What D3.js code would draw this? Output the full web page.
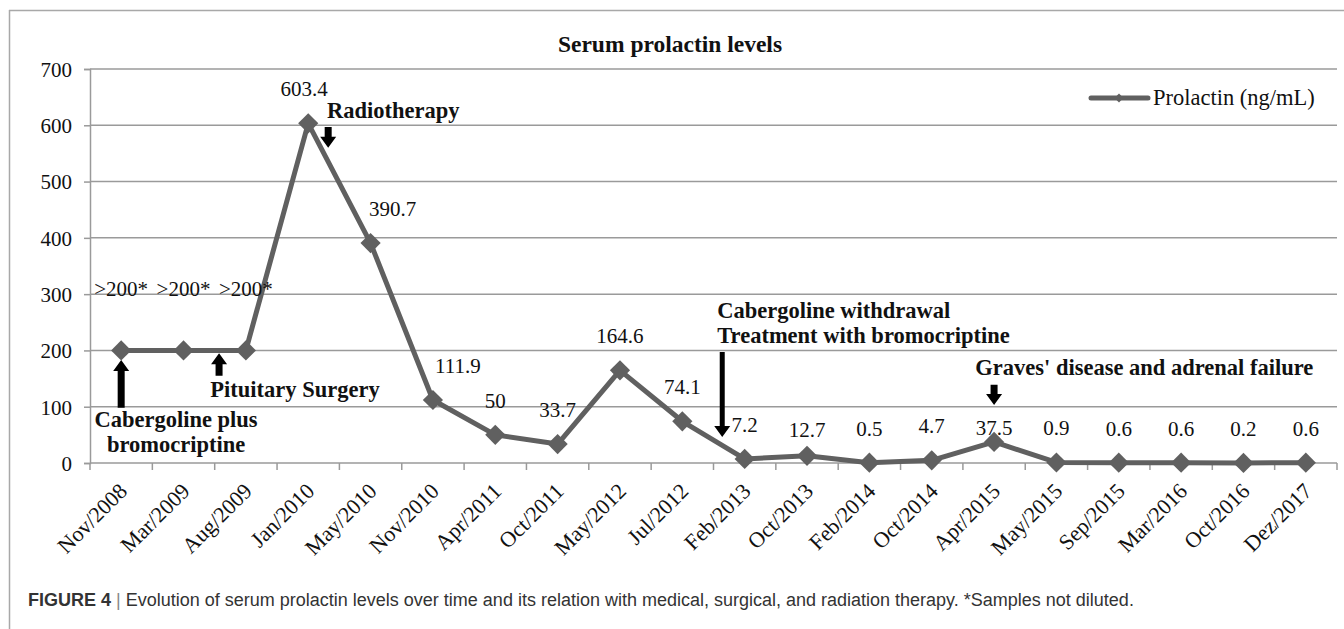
<!DOCTYPE html>
<html>
<head>
<meta charset="utf-8">
<script src="https://cdn.jsdelivr.net/npm/d3@7"></script>
<style>
  body { margin: 0; background: #fff; }
  svg { display: block; }
  .serif { font-family: "Liberation Serif", "Times New Roman", serif; fill: #111; }
  .ann { font-family: "Liberation Serif", "Times New Roman", serif; font-weight: bold; fill: #111; }
</style>
</head>
<body>
<div id="chart"></div>
<script>
// sampling dates and prolactin values (ng/mL)
var dates = ["Nov/2008", "Mar/2009", "Aug/2009", "Jan/2010", "May/2010", "Nov/2010", "Apr/2011",
    "Oct/2011", "May/2012", "Jul/2012", "Feb/2013", "Oct/2013", "Feb/2014", "Oct/2014",
    "Apr/2015", "May/2015", "Sep/2015", "Mar/2016", "Oct/2016", "Dez/2017"];
var prolactin = [200, 200, 200, 603.4, 390.7, 111.9, 50, 33.7, 164.6, 74.1, 7.2, 12.7, 0.5, 4.7,
    37.5, 0.9, 0.6, 0.6, 0.2, 0.6];
var pointLabels = [">200*", ">200*", ">200*", "603.4", "390.7", "111.9", "50", "33.7", "164.6", "74.1",
    "7.2", "12.7", "0.5", "4.7", "37.5", "0.9", "0.6", "0.6", "0.2", "0.6"];
var yTicks = [0, 100, 200, 300, 400, 500, 600, 700];
var seriesName = "Prolactin (ng/mL)";
var chartTitle = "Serum prolactin levels";
var caption = "Evolution of serum prolactin levels over time and its relation with medical, surgical, and radiation therapy. *Samples not diluted.";

var W = 1344, H = 629;
var margin = { top: 69, right: 7, bottom: 166, left: 90 };
var lineColor = "#606060";

var svg = d3.select("#chart").append("svg").attr("width", W).attr("height", H);

// outer frame (top and left edges visible)
svg.append("line").attr("x1", 9).attr("x2", W).attr("y1", 10.5).attr("y2", 10.5).attr("stroke", "#a8a8a8").attr("stroke-width", 1.5);
svg.append("line").attr("x1", 9.5).attr("x2", 9.5).attr("y1", 10).attr("y2", H).attr("stroke", "#a8a8a8").attr("stroke-width", 1.5);

var x = d3.scaleBand().domain(dates).range([margin.left, W - margin.right]);
var y = d3.scaleLinear().domain([0, 700]).range([H - margin.bottom, margin.top]);
var cx = function(d) { return x(d) + x.bandwidth() / 2; };
// fractional category position, used for the annotations
var xi = d3.scaleLinear().domain([0, dates.length - 1]).range([cx(dates[0]), cx(dates[dates.length - 1])]);

// gridlines
svg.append("g").selectAll("line").data(yTicks.slice(1)).enter().append("line")
    .attr("x1", margin.left).attr("x2", W - margin.right)
    .attr("y1", function(d) { return y(d); }).attr("y2", function(d) { return y(d); })
    .attr("stroke", "#9a9a9a").attr("stroke-width", 1.5);

// y axis
var yAxis = d3.axisLeft(y).tickValues(yTicks).tickSize(6).tickPadding(12);
var gy = svg.append("g").attr("transform", "translate(" + margin.left + ",0)").call(yAxis);
gy.selectAll("path, line").attr("stroke", "#9a9a9a").attr("stroke-width", 1.5);
gy.selectAll("text").attr("class", "serif").style("font-size", "21px").attr("dy", "0.35em");

// x axis: ticks at category boundaries
var gx = svg.append("g").attr("transform", "translate(0," + y(0) + ")");
gx.append("line").attr("x1", margin.left).attr("x2", W - margin.right).attr("stroke", "#9a9a9a").attr("stroke-width", 1.5);
gx.selectAll(".tk").data(dates.concat(["end"])).enter().append("line")
    .attr("x1", function(d, i) { return margin.left + i * x.bandwidth(); })
    .attr("x2", function(d, i) { return margin.left + i * x.bandwidth(); })
    .attr("y1", 0).attr("y2", 7).attr("stroke", "#9a9a9a").attr("stroke-width", 1.5);
gx.selectAll(".xl").data(dates).enter().append("text")
    .attr("class", "serif")
    .style("font-size", "22px").style("text-anchor", "end")
    .attr("transform", function(d) { return "translate(" + (cx(d) + 2) + ",24) rotate(-45)"; })
    .attr("dy", "0.35em")
    .text(function(d) { return d; });

// series line and markers
var pts = dates.map(function(d, i) { return [cx(d), y(prolactin[i])]; });
svg.append("path").attr("d", d3.line()(pts)).attr("fill", "none")
    .attr("stroke", lineColor).attr("stroke-width", 5).attr("stroke-linejoin", "round");
var diamond = d3.symbol().type(d3.symbolDiamond2).size(260);
svg.append("g").selectAll("path").data(pts).enter().append("path")
    .attr("d", diamond).attr("transform", function(p) { return "translate(" + p[0] + "," + p[1] + ")"; })
    .attr("fill", lineColor);

// data labels (a few were moved by hand in the original): [dx, dy]
var labelNudge = { 0: [0, -27], 1: [0, -27], 2: [0, -27], 3: [-4, 0], 4: [22, 0], 5: [25, 0], 11: [0, 8], 14: [0, 20] };
svg.append("g").selectAll("text").data(pointLabels).enter().append("text")
    .attr("class", "serif").style("font-size", "21px").style("text-anchor", "middle")
    .attr("x", function(d, i) { return cx(dates[i]) + (labelNudge[i] ? labelNudge[i][0] : 0); })
    .attr("y", function(d, i) { return y(prolactin[i]) - 27 + (labelNudge[i] ? labelNudge[i][1] : 0); })
    .text(function(d) { return d; });

// title
svg.append("text").attr("class", "serif").attr("x", 670).attr("y", 52)
    .style("font-size", "23.5px").style("font-weight", "bold").style("text-anchor", "middle").text(chartTitle);

// legend
var lg = svg.append("g").attr("transform", "translate(1091,98)");
lg.append("line").attr("x1", 0).attr("x2", 57).attr("stroke", lineColor).attr("stroke-width", 5).attr("stroke-linecap", "round");
lg.append("path").attr("d", d3.symbol().type(d3.symbolDiamond2).size(50)).attr("transform", "translate(28,0)").attr("fill", lineColor);
lg.append("text").attr("class", "serif").attr("x", 62).attr("y", 7).style("font-size", "22.5px").text(seriesName);

// annotations: arrows (from, to in category index / value) and bold texts
var arrows = [
    { i: 3.32, from: 597, to: 560, w: 7, hw: 16 },
    { i: 0, from: 98, to: 183, w: 7, hw: 16 },
    { i: 1.57, from: 155, to: 195, w: 7, hw: 16 },
    { i: 9.64, from: 197, to: 46, w: 5, hw: 16 },
    { i: 14, from: 139, to: 103, w: 7, hw: 16 }
];
var notes = [
    { i: 3.30, v: 613, lines: ["Radiotherapy"], anchor: "start" },
    { i: 0.88, v: 64, lines: ["Cabergoline plus", "bromocriptine"], anchor: "middle" },
    { i: 1.43, v: 117, lines: ["Pituitary Surgery"], anchor: "start" },
    { i: 9.56, v: 257, lines: ["Cabergoline withdrawal", "Treatment with bromocriptine"], anchor: "start" },
    { i: 13.7, v: 156, lines: ["Graves' disease and adrenal failure"], anchor: "start" }
];

arrows.forEach(function(a) {
    var ax = xi(a.i), y0 = y(a.from), y1 = y(a.to);
    var dir = y1 > y0 ? 1 : -1, head = 11;
    var yh = y1 - dir * head;
    var p = d3.path();
    p.moveTo(ax - a.w / 2, y0);
    p.lineTo(ax - a.w / 2, yh);
    p.lineTo(ax - a.hw / 2, yh);
    p.lineTo(ax, y1);
    p.lineTo(ax + a.hw / 2, yh);
    p.lineTo(ax + a.w / 2, yh);
    p.lineTo(ax + a.w / 2, y0);
    p.closePath();
    svg.append("path").attr("d", p.toString()).attr("fill", "#000");
});

notes.forEach(function(n) {
    var t = svg.append("text").attr("class", "ann").style("font-size", "22.5px")
        .style("text-anchor", n.anchor).attr("x", xi(n.i)).attr("y", y(n.v));
    n.lines.forEach(function(l, k) {
        t.append("tspan").attr("x", xi(n.i)).attr("dy", k === 0 ? 0 : 25).text(l);
    });
});

// figure caption
var cap = svg.append("text").attr("x", 28).attr("y", 606)
    .style("font-family", "'Liberation Sans', Arial, sans-serif").style("font-size", "18px").style("fill", "#333");
cap.append("tspan").style("font-weight", "bold").text("FIGURE 4");
cap.append("tspan").style("fill", "#888").text(" | ");
cap.append("tspan").text(caption);
</script>
</body>
</html>
